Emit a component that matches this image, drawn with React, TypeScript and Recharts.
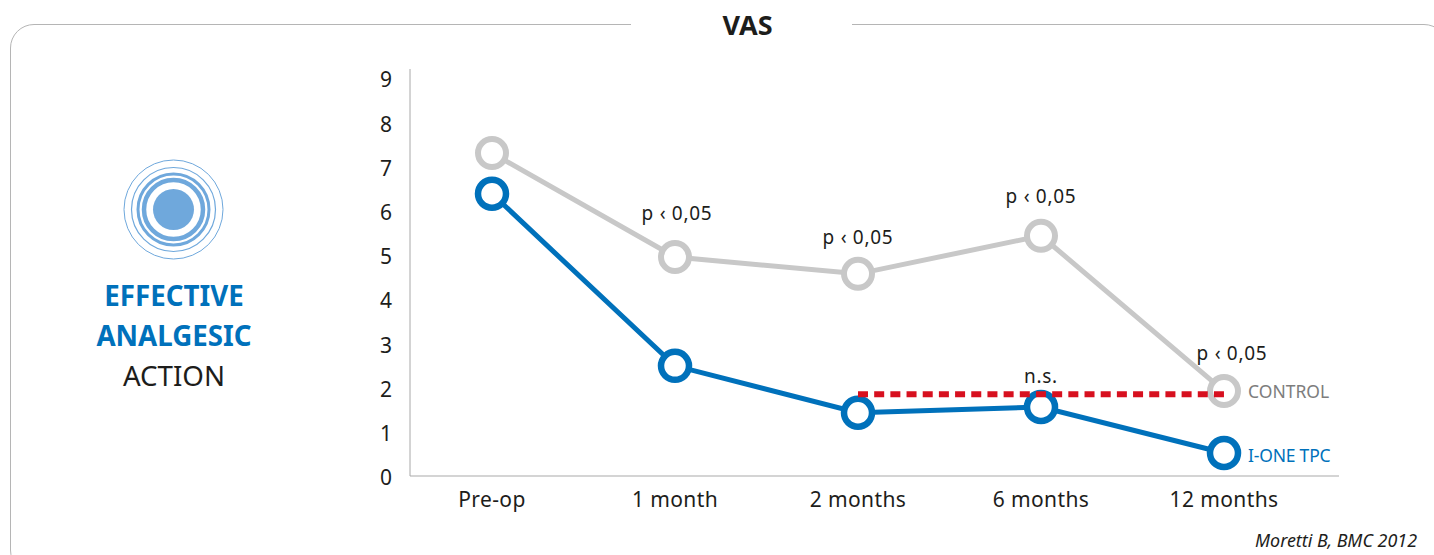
import { LabelList, Line, LineChart, XAxis, YAxis } from "recharts";

const categories = ["Pre-op", "1 month", "2 months", "6 months", "12 months"];
const controlValues = [7.3, 4.95, 4.57, 5.43, 1.92];
const ioneValues = [6.38, 2.49, 1.43, 1.56, 0.52];
const gapValues = [null, null, 1.85, 1.85, 1.85];
const pLabels = ["", "p ‹ 0,05", "p ‹ 0,05", "p ‹ 0,05", "p ‹ 0,05"];
const yTicks = [0, 1, 2, 3, 4, 5, 6, 7, 8, 9];

const data = categories.map((name, i) => ({
  name,
  control: controlValues[i],
  ione: ioneValues[i],
  gap: gapValues[i],
  p: pLabels[i],
}));

const FONT = "'Noto Sans', sans-serif";
const BLUE = "#0071bb";
const GREY = "#c8c8c8";

// hand placed in the original, so each p label has its own nudge
const labelLift = [0, 37, 30, 33, 31];
const labelShift = [0, 2, 0, 0, 8];

function pLabel(props: any) {
  const { x, y, value, index } = props;
  if (!value) return null;
  return (
    <text
      x={x + labelShift[index]}
      y={y - labelLift[index]}
      textAnchor="middle"
      fontSize={19}
      letterSpacing={0.7}
      fill="#1d1d1b"
      fontFamily={FONT}
    >
      {value}
    </text>
  );
}

function nsLabel(props: any) {
  const { x, y, index } = props;
  if (index !== 3) return null;
  return (
    <text x={x} y={y - 11} textAnchor="middle" fontSize={19} letterSpacing={0.7} fill="#1d1d1b" fontFamily={FONT}>
      n.s.
    </text>
  );
}

function Rings() {
  return (
    <svg width={102} height={102} style={{ position: "absolute", left: 123, top: 159 }}>
      <circle cx={50.5} cy={50.5} r={49.5} fill="none" stroke="#6fa8dc" strokeWidth={1} />
      <circle cx={50.5} cy={50.5} r={42} fill="none" stroke="#6fa8dc" strokeWidth={1.2} />
      <circle cx={50.5} cy={50.5} r={35.5} fill="none" stroke="#6fa8dc" strokeWidth={3} />
      <circle cx={50.5} cy={50.5} r={29.5} fill="none" stroke="#6fa8dc" strokeWidth={4.5} />
      <circle cx={50.5} cy={50.5} r={20.5} fill="#6fa8dc" />
    </svg>
  );
}

export default function App() {
  return (
    <div style={{ position: "absolute", left: 0, top: 0, width: 1434, height: 555, background: "#fff", overflow: "hidden", fontFamily: FONT }}>
      <div
        style={{
          position: "absolute",
          left: 10,
          top: 23.5,
          width: 1438,
          height: 550,
          border: "1.5px solid #b5b5b5",
          borderRadius: 24,
          boxSizing: "border-box",
        }}
      />
      <div
        style={{
          position: "absolute",
          left: 631,
          top: 8,
          width: 221,
          height: 34,
          background: "#fff",
          textAlign: "center",
          fontSize: 27,
          fontWeight: 700,
          lineHeight: "34px",
          color: "#1d1d1b",
          paddingLeft: 12,
          boxSizing: "border-box",
        }}
      >
        VAS
      </div>

      <Rings />
      <div style={{ position: "absolute", left: 74, top: 275, width: 200, textAlign: "center", fontSize: 27.7, lineHeight: "40px" }}>
        <div style={{ color: BLUE, fontWeight: 700 }}>EFFECTIVE</div>
        <div style={{ color: BLUE, fontWeight: 700 }}>ANALGESIC</div>
        <div style={{ color: "#1d1d1b" }}>ACTION</div>
      </div>

      <div style={{ position: "absolute", left: 0, top: 0 }}>
        <LineChart width={1434} height={555} data={data} margin={{ top: 69, right: 95, bottom: 39, left: 370 }}>
          <XAxis
            dataKey="name"
            padding={{ left: 82, right: 115 }}
            axisLine={{ stroke: "#c6c6c6", strokeWidth: 1.5 }}
            tickLine={false}
            height={40}
            tickMargin={10}
            tick={{ fill: "#1d1d1b", fontSize: 21, letterSpacing: 0.4, fontFamily: FONT }}
            interval={0}
          />
          <YAxis
            domain={[0, 9.2]}
            ticks={yTicks}
            axisLine={{ stroke: "#a8a8a8", strokeWidth: 1 }}
            tickLine={false}
            width={40}
            orientation="left"
            tick={{ fill: "#1d1d1b", fontSize: 21, fontFamily: FONT, dy: 2 }}
            tickMargin={12}
            interval={0}
          />
          <Line
            dataKey="control"
            stroke={GREY}
            strokeWidth={5}
            dot={{ r: 14, fill: "#fff", stroke: GREY, strokeWidth: 6 }}
            isAnimationActive={false}
          >
            <LabelList dataKey="p" content={pLabel} />
          </Line>
          <Line
            dataKey="ione"
            stroke={BLUE}
            strokeWidth={5}
            dot={{ r: 14, fill: "#fff", stroke: BLUE, strokeWidth: 6.5 }}
            isAnimationActive={false}
          />
          <Line
            dataKey="gap"
            stroke="#d7101f"
            strokeWidth={6}
            strokeDasharray="10 6.18"
            dot={false}
            connectNulls={false}
            isAnimationActive={false}
            zIndex={1000}
          >
            <LabelList dataKey="gap" content={nsLabel} />
          </Line>
        </LineChart>
      </div>

      <div style={{ position: "absolute", left: 1248, top: 379, fontSize: 17.5, lineHeight: "24px", color: "#7d7d7d" }}>CONTROL</div>
      <div style={{ position: "absolute", left: 1248, top: 443, fontSize: 17.5, lineHeight: "24px", letterSpacing: -0.2, color: BLUE }}>I-ONE TPC</div>
      <div style={{ position: "absolute", right: 17, top: 528.5, fontSize: 17.9, lineHeight: "22px", fontStyle: "italic", color: "#1d1d1b" }}>
        Moretti B, BMC 2012
      </div>
    </div>
  );
}
